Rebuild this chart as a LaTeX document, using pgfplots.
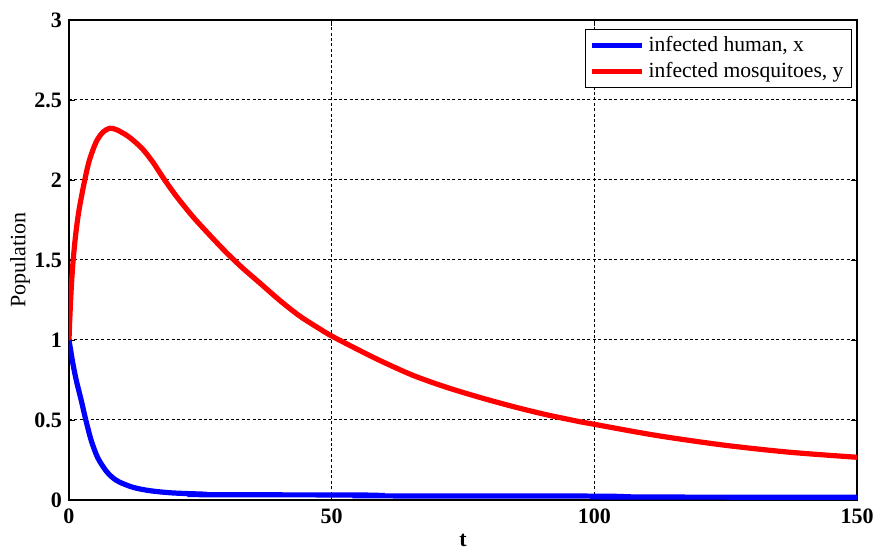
\documentclass[border=0pt]{standalone}
\usepackage{pgfplots}
\pgfplotsset{compat=1.18}
\usepackage{fontspec}
\setmainfont{Liberation Serif}

\pgfplotstableread{
t y
0 1.00
0.2 1.17
0.44 1.33
0.7 1.46
1.08 1.60
1.5 1.72
2.0 1.83
3.0 2.00
3.9 2.125
5.2 2.24
6.5 2.30
7.75 2.323
9.0 2.315
10.9 2.281
12.5 2.24
14.1 2.19
16.0 2.11
17.9 2.015
20.4 1.90
23.6 1.77
26.8 1.655
30.0 1.545
33.1 1.448
36.3 1.357
40.1 1.248
43.9 1.150
47.7 1.070
50 1.025
54.7 0.945
59.1 0.873
65.4 0.78
71.7 0.706
78.0 0.643
84.3 0.586
90.6 0.535
97 0.491
100 0.473
111.7 0.404
124.4 0.344
137 0.299
150 0.267
}\mosq

\pgfplotstableread{
t x
0 1.00
0.3 0.94
0.7 0.86
1.4 0.746
2.35 0.62
3.2 0.50
4.25 0.37
5.5 0.262
7.1 0.18
8.3 0.14
9.6 0.112
12.2 0.079
15.4 0.058
19.8 0.044
26 0.036
26.1 0.033
56 0.031
56.1 0.026
102 0.024
102.1 0.019
150 0.017
}\human

\begin{document}
\begin{tikzpicture}
\begin{axis}[
    scale only axis,
    width=394pt, height=240pt,
    xmin=0, xmax=150,
    ymin=0, ymax=3,
    xtick={0,50,100,150},
    ytick={0,0.5,1,1.5,2,2.5,3},
    /pgf/number format/assume math mode=true,
    tick label style={font=\fontsize{11}{13}\selectfont\bfseries},
    xticklabel style={yshift=-1pt},
    major tick length=3pt,
    tick style={black, line width=0.4pt},
    axis line style={black, line width=0.6pt},
    grid=major,
    major grid style={black, line width=0.5pt, dash pattern=on 1.5pt off 1.2pt},
    xlabel={\bfseries t},
    ylabel={Population},
    label style={font=\fontsize{11}{13}\selectfont},
    xlabel style={at={(axis description cs:0.5,0)}, anchor=center, yshift=-20pt},
    ylabel style={at={(axis description cs:-0.0622,0.5)}, anchor=center},
    legend style={at={(1,1)}, anchor=north east, xshift=-2.5pt, yshift=-4.5pt,
        draw=black, line width=0.5pt, fill=white,
        font=\fontsize{10.8}{13}\selectfont,
        inner xsep=2pt, inner ysep=1.5pt,
        row sep=0pt, cells={anchor=west}},
    legend image code/.code={\draw[#1, line width=2.5pt] (0pt,0pt) -- (25pt,0pt);},
]
\addplot[blue, line width=2.6pt, smooth] table[x=t, y=x] {\human};
\addlegendentry{infected human, x}
\addplot[red, line width=2.6pt, smooth] table[x=t, y=y] {\mosq};
\addlegendentry{infected mosquitoes, y}
\end{axis}
\pgfresetboundingbox
\path (-34.5pt,-24.5pt) rectangle (405pt,250pt);
\end{tikzpicture}
\end{document}
